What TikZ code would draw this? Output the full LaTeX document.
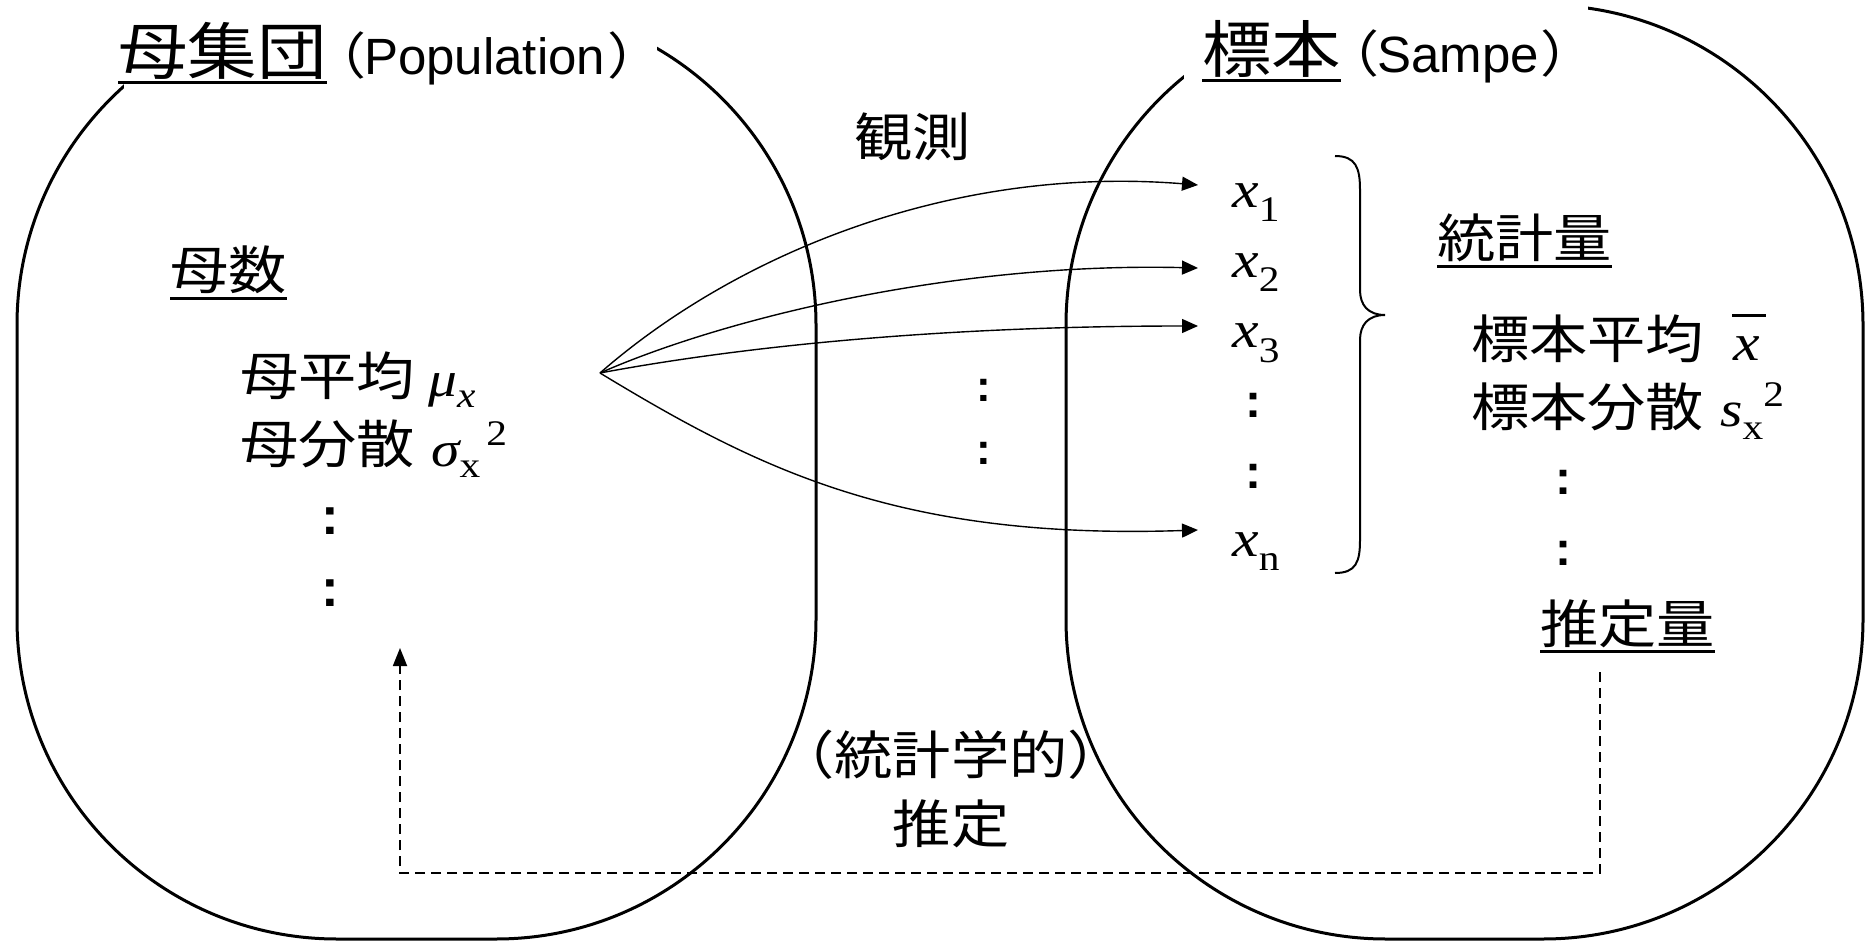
\documentclass[tikz,border=0pt]{standalone}
\usepackage{fontspec}
\setmainfont{Liberation Sans}
\newfontfamily\jp[FakeStretch=1.12]{Noto Sans CJK JP}
\newfontfamily\jpp[FakeStretch=1.12,RawFeature=+palt]{Noto Sans CJK JP}
\newfontfamily\tms[FakeStretch=1.15]{Liberation Serif}
\usetikzlibrary{arrows.meta}
\newcommand\fs[1]{\fontsize{#1}{#1}\selectfont}
\newcommand\ulbox[2]{\leavevmode\setbox0=\hbox{#2}\rlap{\rule[#1]{\wd0}{3pt}}\box0}
\begin{document}
\begin{tikzpicture}[x=1pt,y=-1pt,
  lbl/.style={inner sep=0pt, anchor=base west},
  ctr/.style={inner sep=0pt, anchor=base},
  blob/.style={line width=3pt, rounded corners=320pt},
  obsarrow/.style={line width=1.4pt, -{Triangle[length=16pt,width=14pt]}},
  estline/.style={line width=1.8pt, dash pattern=on 10pt off 6pt, -{Triangle[length=18pt,width=14pt]}},
  bracestyle/.style={line width=2pt},
  colon/.style={inner sep=0pt, font=\bfseries\fs{#1}}]
\useasboundingbox (0,0) rectangle (1866,941);
% population and sample shapes
\draw[blob] (17,5) rectangle (816,939);
\draw[blob] (1066,5) rectangle (1863,939);
% white backgrounds of the titles
\fill[white] (124,-10) rectangle (657,100);
\fill[white] (1184,-10) rectangle (1588,100);
% titles
\node[lbl] (popt) at (118,75) {\jp\fs{62}\ulbox{-9pt}{母集団}};
\node[lbl] (popl) at (336,75) {{\jpp\fs{50}（}{\fs{51}Population}{\jpp\fs{50}\kern4pt）}};
\node[lbl] (samt) at (1202,73) {\jp\fs{62}\ulbox{-9pt}{標本}};
\node[lbl] (saml) at (1349,73) {{\jpp\fs{50}（}{\fs{51}Sampe}{\jpp\fs{50}\kern4pt）}};
% left contents
\node[lbl] (param) at (170,290) {\jp\fs{52}\ulbox{-10pt}{母数}};
\node[lbl] (pmean) at (240,395) {\jp\fs{52}母平均};
\node[lbl] (mu) at (428,396) {\tms\fs{50}\itshape μ\raisebox{-11pt}{\fs{36}x}};
\node[lbl] (pvar) at (240,463) {\jp\fs{52}母分散};
\node[lbl] (sig) at (431,466) {\tms\fs{50}\itshape σ\upshape\raisebox{-11pt}{\fs{36}x}\kern6pt\raisebox{21pt}{\fs{36}2}};
\node[colon=53] (ld1) at (330,521) {:};
\node[colon=53] (ld2) at (330,593) {:};
% observation
\node[lbl] (obs) at (854,157) {\jp\fs{52}観測};
\node[colon=44] (md1) at (984,390) {:};
\node[colon=44] (md2) at (984,453) {:};
% samples
\node[lbl] (x1) at (1232,208) {\tms\fs{52}\itshape x\upshape\raisebox{-14pt}{\fs{36}1}};
\node[lbl] (x2) at (1232,278) {\tms\fs{52}\itshape x\upshape\raisebox{-14pt}{\fs{36}2}};
\node[lbl] (x3) at (1232,348) {\tms\fs{52}\itshape x\upshape\raisebox{-14pt}{\fs{36}3}};
\node[colon=48] (xd1) at (1253,405) {:};
\node[colon=48] (xd2) at (1253,476) {:};
\node[lbl] (xn) at (1232,556) {\tms\fs{52}\itshape x\upshape\raisebox{-14pt}{\fs{36}n}};
% brace
\draw[bracestyle] (1335,156) .. controls (1356,156) and (1360,168) .. (1360,190)
  -- (1360,290) .. controls (1360,305) and (1368,315) .. (1385,315)
  .. controls (1368,315) and (1360,325) .. (1360,340)
  -- (1360,540) .. controls (1360,562) and (1356,573) .. (1335,573);
% statistics
\node[lbl] (stat) at (1437,258) {\jp\fs{52}\ulbox{-10pt}{統計量}};
\node[lbl] (smean) at (1471,359) {\jp\fs{52}標本平均};
\node[lbl] (xbar) at (1732,360) {\tms\fs{52}\itshape\vbox{\hrule height 3pt width 34pt\kern19pt\hbox{\kern1pt x}}};
\node[lbl] (svar) at (1471,426) {\jp\fs{52}標本分散};
\node[lbl] (sx) at (1720,426) {\tms\fs{50}\itshape s\upshape\raisebox{-13pt}{\fs{36}x}\raisebox{20pt}{\fs{36}2}};
\node[colon=48] (rd1) at (1563,482) {:};
\node[colon=48] (rd2) at (1563,553) {:};
\node[lbl] (estq) at (1540,643) {\jp\fs{52}\ulbox{-10pt}{推定量}};
% inference label
\node[ctr] (inf1) at (951,774) {\jp\fs{52}（統計学的）};
\node[ctr] (inf2) at (951,843) {\jp\fs{52}推定};
% observation arrows
\coordinate (src) at (600,373);
\coordinate (t1) at (1198,185);
\coordinate (t2) at (1198,268);
\coordinate (t3) at (1198,326);
\coordinate (tn) at (1198,530);
\draw[obsarrow] (src) .. controls (735,255) and (950,165) .. (t1);
\draw[obsarrow] (src) .. controls (720,320) and (950,262) .. (t2);
\draw[obsarrow] (src) .. controls (750,345) and (950,326) .. (t3);
\draw[obsarrow] (src) .. controls (760,470) and (900,540) .. (tn);
% estimation connector
\coordinate (estb) at (1600,672);
\coordinate (low) at (1000,873);
\coordinate (ptip) at (400,648);
\draw[estline] (estb) -- (estb |- low) -- (ptip |- low) -- (ptip);
\end{tikzpicture}
\end{document}
